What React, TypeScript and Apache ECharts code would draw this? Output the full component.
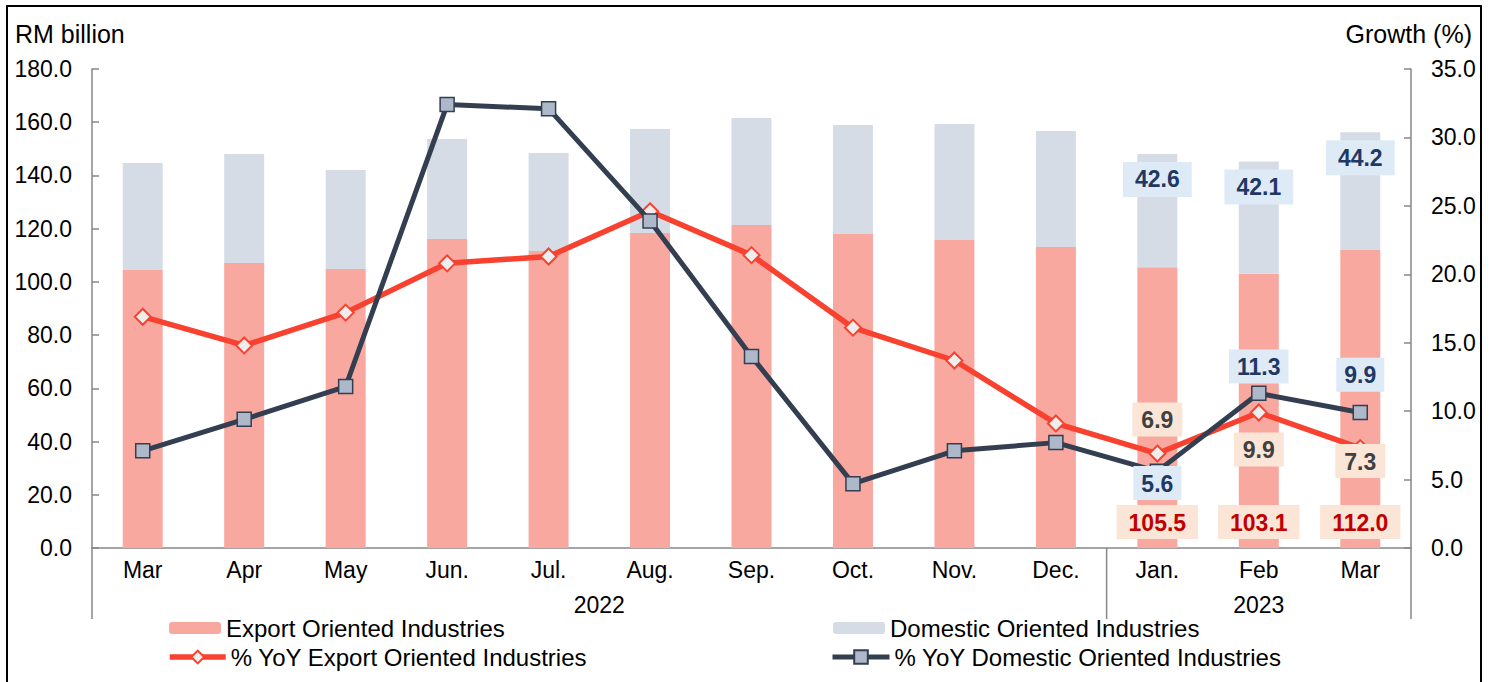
import React, { useEffect, useRef } from "react";
import * as echarts from "echarts";

// ---- data ----
const months = ["Mar", "Apr", "May", "Jun.", "Jul.", "Aug.", "Sep.", "Oct.", "Nov.", "Dec.", "Jan.", "Feb", "Mar"];
const yearGroups = [
  { label: "2022", from: 0, to: 9 },
  { label: "2023", from: 10, to: 12 },
];
const exportValues = [104.5, 107.1, 104.8, 116.1, 111.6, 118.4, 121.4, 118.0, 115.7, 113.1, 105.5, 103.1, 112.0];
const domesticValues = [40.2, 41.0, 37.2, 37.6, 36.8, 39.1, 40.2, 41.0, 43.6, 43.6, 42.6, 42.1, 44.2];
const exportYoY = [16.9, 14.8, 17.2, 20.8, 21.3, 24.6, 21.4, 16.1, 13.7, 9.1, 6.9, 9.9, 7.3];
const domesticYoY = [7.1, 9.4, 11.8, 32.4, 32.1, 23.9, 14.0, 4.7, 7.1, 7.7, 5.6, 11.3, 9.9];
const leftAxis = { min: 0, max: 180, interval: 20, name: "RM billion" };
const rightAxis = { min: 0, max: 35, interval: 5, name: "Growth (%)" };
const labelledFrom = 10;

// ---- style / layout ----
const FONT = "'Liberation Sans', Arial, sans-serif";
const W = 1492;
const H = 682;
const GRID = { left: 92, right: 81, top: 69, bottom: 134 };
const AXIS_GRAY = "#878787";
const C_EXPORT_BAR = "#F9A8A0";
const C_DOM_BAR = "#D6DCE5";
const C_EXPORT_LINE = "#F8412F";
const C_DOM_LINE = "#333F50";

const exportLinePos: Record<number, [string, number]> = { 10: ["top", 8], 11: ["bottom", 11], 12: ["bottom", -13] };
const domLinePos: Record<number, [string, number]> = { 10: ["bottom", -13], 11: ["top", 2], 12: ["top", 13] };

const fmt1 = (p: any) => Number(Array.isArray(p.value) ? p.value[1] : p.value).toFixed(1);

function labelBox(color: string, bg: string, position: string, distance: number, pad: number[]) {
  return {
    show: true,
    position,
    distance,
    color,
    fontWeight: "bold",
    fontSize: 23,
    fontFamily: FONT,
    backgroundColor: bg,
    padding: pad,
    formatter: fmt1,
  };
}

export default function App() {
  const ref = useRef<HTMLDivElement>(null);

  useEffect(() => {
    if (!ref.current) return;
    const chart = echarts.init(ref.current, null, { renderer: "svg" });

    const exportBarData = exportValues.map((v, i) =>
      i >= labelledFrom
        ? { value: v, label: labelBox("#C00000", "#FBE5D6", "insideBottom", 9, [6, 12, 5, 12]) }
        : v
    );
    const domBarData = domesticValues.map((v, i) =>
      i >= labelledFrom
        ? { value: v, label: labelBox("#1F3864", "#DEEBF7", "insideTop", 8, [6, 12, 6, 12]) }
        : v
    );
    const exportLineData = exportYoY.map((v, i) =>
      exportLinePos[i]
        ? { value: v, label: labelBox("#404040", "#FBE5D6", exportLinePos[i][0], exportLinePos[i][1], [6, 9, 5, 9]) }
        : v
    );
    const domLineData = domesticYoY.map((v, i) =>
      domLinePos[i]
        ? { value: v, label: labelBox("#1F3864", "#DEEBF7", domLinePos[i][0], domLinePos[i][1], [6, 8, 5, 8]) }
        : v
    );

    const legendText = { fontSize: 24, fontFamily: FONT, color: "#000" };

    const option: any = {
      animation: false,
      backgroundColor: "#fff",
      textStyle: { fontFamily: FONT },
      grid: { ...GRID, containLabel: false },
      legend: [
        {
          data: ["Export Oriented Industries"],
          left: 169, top: 616, padding: 0,
          itemWidth: 52, itemHeight: 12, textStyle: legendText,
        },
        {
          data: ["% YoY Export Oriented Industries"],
          left: 167, top: 645, padding: 0,
          itemWidth: 56, itemHeight: 16, textStyle: legendText,
          lineStyle: { width: 5.5 },
        },
        {
          data: ["Domestic Oriented Industries"],
          left: 833, top: 616, padding: 0,
          itemWidth: 52, itemHeight: 12, textStyle: legendText,
        },
        {
          data: ["% YoY Domestic Oriented Industries"],
          left: 830, top: 645, padding: 0,
          itemWidth: 57, itemHeight: 17, textStyle: legendText,
          lineStyle: { width: 5 },
        },
      ],
      xAxis: {
        type: "category",
        data: months,
        boundaryGap: true,
        axisLine: { show: true, lineStyle: { color: AXIS_GRAY, width: 1.5 } },
        axisTick: { show: false },
        axisLabel: { fontSize: 23, fontFamily: FONT, color: "#000", margin: 10, interval: 0 },
        splitLine: { show: false },
      },
      yAxis: [
        {
          type: "value",
          min: leftAxis.min, max: leftAxis.max, interval: leftAxis.interval,
          position: "left",
          axisLine: { show: true, lineStyle: { color: AXIS_GRAY, width: 1.5 } },
          axisTick: { show: true, inside: true, length: 7, lineStyle: { color: AXIS_GRAY, width: 1.5 } },
          axisLabel: { fontSize: 23, fontFamily: FONT, color: "#000", margin: 20, formatter: (v: number) => v.toFixed(1) },
          splitLine: { show: false },
        },
        {
          type: "value",
          min: rightAxis.min, max: rightAxis.max, interval: rightAxis.interval,
          position: "right",
          axisLine: { show: true, lineStyle: { color: AXIS_GRAY, width: 1.5 } },
          axisTick: { show: true, inside: true, length: 7, lineStyle: { color: AXIS_GRAY, width: 1.5 } },
          axisLabel: { fontSize: 23, fontFamily: FONT, color: "#000", margin: 20, formatter: (v: number) => v.toFixed(1) },
          splitLine: { show: false },
        },
      ],
      series: [
        {
          name: "Export Oriented Industries",
          type: "bar",
          stack: "total",
          yAxisIndex: 0,
          barWidth: 40,
          itemStyle: { color: C_EXPORT_BAR },
          data: exportBarData,
          z: 2,
        },
        {
          name: "Domestic Oriented Industries",
          type: "bar",
          stack: "total",
          yAxisIndex: 0,
          barWidth: 40,
          itemStyle: { color: C_DOM_BAR },
          data: domBarData,
          z: 2,
        },
        {
          name: "% YoY Export Oriented Industries",
          type: "line",
          yAxisIndex: 1,
          symbol: "diamond",
          symbolSize: 16,
          lineStyle: { color: C_EXPORT_LINE, width: 5.5 },
          itemStyle: { color: "#EDEDED", borderColor: C_EXPORT_LINE, borderWidth: 2 },
          data: exportLineData,
          z: 3,
        },
        {
          name: "% YoY Domestic Oriented Industries",
          type: "line",
          yAxisIndex: 1,
          symbol: "rect",
          symbolSize: 14,
          lineStyle: { color: C_DOM_LINE, width: 5 },
          itemStyle: { color: "#ADB9CA", borderColor: C_DOM_LINE, borderWidth: 1.5 },
          data: domLineData,
          z: 4,
        },
      ],
    };

    chart.setOption(option);

    // decorations computed from the axes
    const gridLeft = GRID.left;
    const gridRight = W - GRID.right;
    const axisY = H - GRID.bottom;
    const extBottom = axisY + 71;
    const catW = (gridRight - gridLeft) / months.length;
    const px = (i: number) => chart.convertToPixel({ xAxisIndex: 0 }, i) as number;

    const elements: any[] = [
      {
        type: "rect",
        shape: { x: 7, y: 6, width: 1474, height: 700 },
        style: { fill: "none", stroke: "#000", lineWidth: 2 },
        silent: true,
      },
      {
        type: "text",
        x: 15, y: 34,
        style: { text: leftAxis.name, font: `25px ${FONT}`, fill: "#000", textAlign: "left", textVerticalAlign: "middle" },
      },
      {
        type: "text",
        x: 1472, y: 34,
        style: { text: rightAxis.name, font: `25px ${FONT}`, fill: "#000", textAlign: "right", textVerticalAlign: "middle" },
      },
    ];
    const lineStyle = { stroke: AXIS_GRAY, lineWidth: 1.5 };
    const sepXs = [gridLeft, gridRight];
    yearGroups.forEach((g, gi) => {
      if (gi > 0) sepXs.push(gridLeft + g.from * catW);
      const cx = (px(g.from) + px(g.to)) / 2;
      elements.push({
        type: "text",
        x: cx, y: 605,
        style: { text: g.label, font: `23px ${FONT}`, fill: "#000", textAlign: "center", textVerticalAlign: "middle" },
      });
    });
    sepXs.forEach((x) => {
      elements.push({
        type: "line",
        shape: { x1: x, y1: axisY, x2: x, y2: extBottom },
        style: lineStyle,
        silent: true,
      });
    });
    chart.setOption({ graphic: { elements } });

    return () => chart.dispose();
  }, []);

  return (
    <div
      ref={ref}
      style={{ position: "fixed", left: 0, top: 0, width: W, height: H, background: "#fff" }}
    />
  );
}
